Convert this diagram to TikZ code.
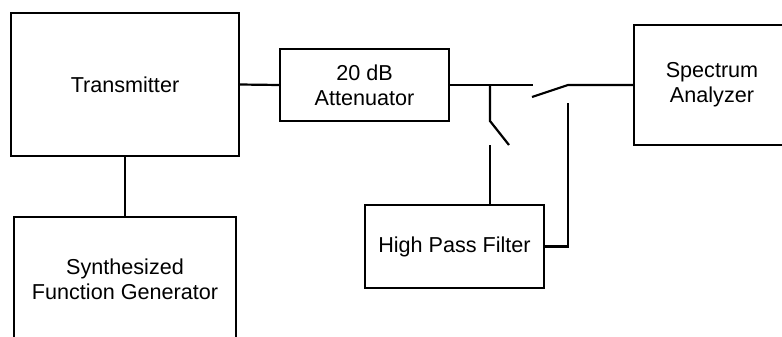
\documentclass[tikz,border=0pt]{standalone}
\usepackage{fontspec}
\setmainfont{Liberation Sans}
\begin{document}
\begin{tikzpicture}[x=0.5pt,y=-0.5pt,
  blk/.style={draw=black,line width=0.55pt,align=center,inner sep=0pt,
    font=\fontsize{10.8pt}{12.6pt}\selectfont},
  wire/.style={line width=1.1pt}]
\useasboundingbox (0,0) rectangle (782,337);
\clip (0,0) rectangle (782,337);
% boxes
\node[blk,minimum width=228*0.5pt,minimum height=143*0.5pt] (tx) at (125,84.5) {Transmitter};
\node[blk,minimum width=222*0.5pt,minimum height=125*0.5pt] (sfg) at (125,279.5) {Synthesized\\Function Generator};
\node[blk,minimum width=169*0.5pt,minimum height=72*0.5pt] (att) at (364.5,85) {20 dB\\Attenuator};
\node[blk,minimum width=179*0.5pt,minimum height=83*0.5pt] (hpf) at (454.5,246.5) {High Pass Filter};
\node[blk,minimum width=156*0.5pt,minimum height=120*0.5pt] (sa) at (712,85) {Spectrum\\Analyzer};
% switch coordinates
\coordinate (j) at (490,85);
\coordinate (s1end) at (532.7,85);
\coordinate (s1a) at (490,121);
\coordinate (s1b) at (509,145);
\coordinate (s1c) at (490,145);
\coordinate (s2a) at (532,97);
\coordinate (s2b) at (568,85);
\coordinate (s2c) at (568,103);
% connectors
\draw[wire] (tx.east) -- (att.west);
\draw[wire] (tx.south) -- (sfg.north);
\draw[wire] (att.east) -- (s1end);
\draw[wire] (j) -- (s1a) -- (s1b);
\draw[wire] (s1c) -- (s1c |- hpf.north);
\draw[wire] (s2a) -- (s2b) -- (sa.west);
\draw[wire] (s2c) |- (hpf.east);
\end{tikzpicture}
\end{document}
